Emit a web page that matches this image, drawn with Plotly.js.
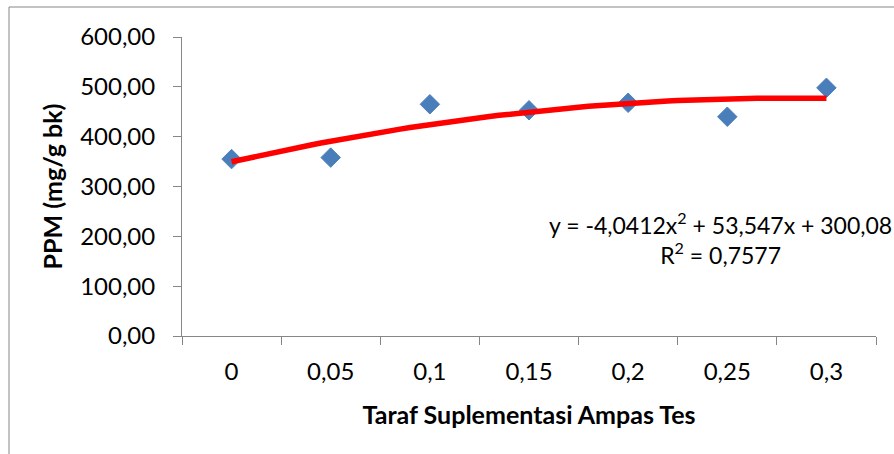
<!DOCTYPE html>
<html>
<head>
<meta charset="utf-8">
<script src="https://cdn.plot.ly/plotly-3.0.1.min.js"></script>
<style>html,body{margin:0;padding:0;background:#fff;}#chart{width:894px;height:454px;}</style>
</head>
<body>
<div id="chart"></div>
<script>
// Data
const categories = ["0", "0,05", "0,1", "0,15", "0,2", "0,25", "0,3"];
const ppmValues = [355, 358, 465, 453, 468, 440, 498];
// Trendline coefficients shown on the chart (x = category index 1..7)
const trendA = -4.0412;
const trendB = 53.547;
const trendC = 300.08;
const yTickVals = [0, 100, 200, 300, 400, 500, 600];
const equationText = "y = -4,0412x<sup>2</sup> + 53,547x + 300,08<br>R<sup>2</sup> = 0,7577";
const xTitle = "Taraf Suplementasi Ampas Tes";
const yTitle = "PPM (mg/g bk)";

const trendX = [];
const trendY = [];
for (let i = 0; i <= 60; i++) {
  const x = 1 + 6 * i / 60;
  trendX.push(x);
  trendY.push(trendA * x * x + trendB * x + trendC);
}

const font = "Lato, 'Open Sans', sans-serif";
const axisColor = "#868686";

const data = [
  {
    type: "scatter", mode: "markers",
    x: categories, y: ppmValues,
    xaxis: "x", yaxis: "y",
    marker: {symbol: "diamond", size: 15, color: "#4a7ebb", line: {color: "#4f81bd", width: 1}},
    showlegend: false, hoverinfo: "x+y"
  },
  {
    type: "scatter", mode: "lines",
    x: trendX, y: trendY,
    xaxis: "x2", yaxis: "y",
    line: {color: "#ff0000", width: 5.5},
    showlegend: false
  }
];

const layout = {
  width: 894, height: 454,
  margin: {l: 182, r: 18, t: 37, b: 118},
  paper_bgcolor: "#fff", plot_bgcolor: "#fff",
  separators: ",.",
  font: {family: font, size: 24, color: "#000"},
  xaxis: {
    type: "category",
    range: [-0.5, 6.5],
    tickson: "boundaries",
    ticks: "outside", ticklen: 8, tickcolor: axisColor, tickwidth: 1,
    showline: true, linecolor: axisColor, linewidth: 1,
    showgrid: false, zeroline: false,
    tickfont: {family: font, size: 24, color: "#000"},
    ticklabelstandoff: 14,
    title: {text: xTitle, font: {family: font, size: 25, color: "#000", weight: "bold"}, standoff: 22},
    automargin: false,
    fixedrange: true
  },
  xaxis2: {
    overlaying: "x", range: [0.5, 7.5], visible: false, showgrid: false, zeroline: false
  },
  yaxis: {
    range: [0, 600],
    tickvals: yTickVals, tickformat: ".2f",
    ticks: "outside", ticklen: 8, tickcolor: axisColor, tickwidth: 1,
    showline: true, linecolor: axisColor, linewidth: 1,
    showgrid: false, zeroline: false,
    tickfont: {family: font, size: 24, color: "#000"},
    ticklabelstandoff: 13,
    title: {text: yTitle, font: {family: font, size: 25, color: "#000", weight: "bold"}, standoff: 10},
    automargin: false,
    fixedrange: true
  },
  annotations: [
    {
      xref: "paper", yref: "paper",
      x: (720 - 182) / 694, y: (336 - 238) / 299,
      xanchor: "center", yanchor: "middle",
      text: equationText, showarrow: false, align: "center",
      font: {family: font, size: 23, color: "#000"}
    }
  ],
  shapes: [
    {
      type: "rect", xref: "paper", yref: "paper",
      x0: (9 - 182) / 694, x1: (920 - 182) / 694,
      y0: (336 - 480) / 299, y1: (336 - 7) / 299,
      line: {color: "#868686", width: 1}, fillcolor: "rgba(0,0,0,0)", layer: "below"
    }
  ]
};

Plotly.newPlot("chart", data, layout, {displayModeBar: false, staticPlot: true});
</script>
</body>
</html>
